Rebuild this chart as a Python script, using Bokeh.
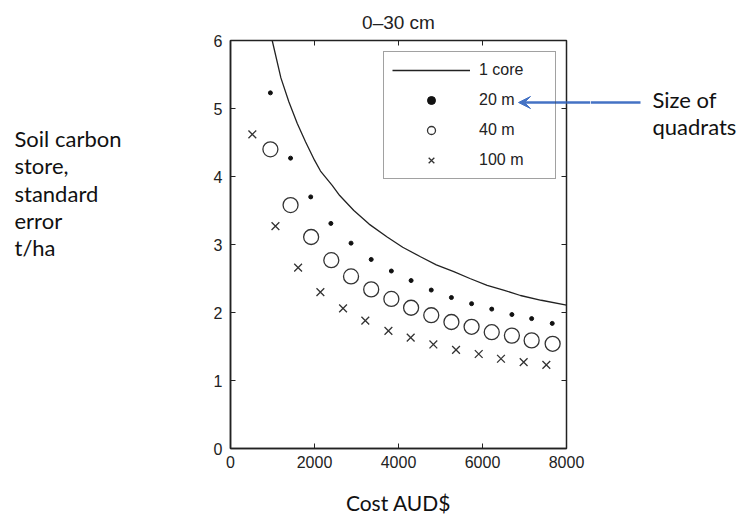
from bokeh.plotting import figure
from bokeh.layouts import row
from bokeh.models import (Range1d, Legend, LegendItem, Arrow, VeeHead, FixedTicker, LinearAxis)
from bokeh.core.properties import value
from bokeh.embed import file_html
from bokeh.resources import INLINE

# ---- data ----
cost_core = [993, 1200, 1389, 1590, 1786, 2000, 2143, 2421, 2600, 2937, 3300, 3730, 4100,
             4524, 4900, 5317, 5700, 6111, 6500, 6905, 7400, 8000]
se_core = [6.00, 5.45, 5.10, 4.78, 4.51, 4.24, 4.08, 3.87, 3.72, 3.50, 3.30, 3.11, 2.96,
           2.82, 2.70, 2.60, 2.50, 2.40, 2.33, 2.25, 2.18, 2.11]

cost_20m = [950, 1430, 1910, 2390, 2870, 3350, 3830, 4300, 4780, 5260, 5740, 6220, 6700, 7170, 7660]
se_20m = [5.23, 4.27, 3.70, 3.31, 3.02, 2.78, 2.61, 2.47, 2.33, 2.22, 2.13, 2.05, 1.97, 1.91, 1.84]

cost_40m = [950, 1430, 1920, 2400, 2870, 3350, 3830, 4300, 4780, 5260, 5740, 6220, 6700, 7170, 7670]
se_40m = [4.40, 3.58, 3.11, 2.77, 2.53, 2.34, 2.20, 2.07, 1.96, 1.86, 1.79, 1.71, 1.66, 1.59, 1.54]

cost_100m = [520, 1070, 1610, 2140, 2680, 3210, 3760, 4290, 4830, 5370, 5910, 6440, 6980, 7520]
se_100m = [4.62, 3.27, 2.66, 2.30, 2.06, 1.88, 1.73, 1.63, 1.53, 1.45, 1.39, 1.32, 1.27, 1.23]

x_ticks = [0, 2000, 4000, 6000, 8000]
y_ticks = [0, 1, 2, 3, 4, 5, 6]
legend_labels = ["1 core", "20 m", "40 m", "100 m"]
title_text = "0\u201330 cm"
ylab_lines = ["Soil carbon", "store,", "standard", "error", " t/ha"]
note_lines = ["Size of", "quadrats"]
xlab_text = "Cost AUD$"

# ---- layout constants (page pixels) ----
H = 520
TOTAL_W = 739
LEFT_W = 190                          # left annotation panel
FL, FT, FW, FH = 230, 40, 336, 408    # chart frame
FR = FL + FW                          # frame right edge
CHART_RB = 24                         # chart right border
RIGHT_START = FR + CHART_RB
RIGHT_W = TOTAL_W - RIGHT_START
XMAX, YMAX = 8000, 6
ARROW_Y, ARROW_X0, ARROW_X1 = 102, 640, 518

INK = "#222222"
FONT = "Liberation Sans"
NOTE_FONT = "Lato"
NOTE_SIZE = "22px"
NOTE_COLOR = "#111111"
ARROW_BLUE = "#4472C4"


def dx(px):
    return (px - FL) * XMAX / FW


def dy(py):
    return (FT + FH - py) * YMAX / FH


def blank_panel(width):
    # data units equal page pixels inside the (row-aligned) frame
    f = figure(width=width, height=H, output_backend="svg", toolbar_location=None,
               x_range=Range1d(0, width), y_range=Range1d(FT + FH, FT),
               x_axis_type=None, y_axis_type=None, min_border=0)
    f.grid.visible = False
    f.outline_line_color = None
    f.background_fill_color = "white"
    f.border_fill_color = "white"
    return f


# ---- left annotation panel ----
left = blank_panel(LEFT_W)
left.text(x=[14] * len(ylab_lines), y=[138 + 27.25 * i for i in range(len(ylab_lines))],
          text=ylab_lines, text_align="left", text_baseline="alphabetic",
          text_font=value(NOTE_FONT), text_font_size=NOTE_SIZE, text_color=NOTE_COLOR)

# ---- chart ----
p = figure(width=RIGHT_START - LEFT_W, height=H, output_backend="svg", toolbar_location=None,
           x_range=Range1d(0, XMAX), y_range=Range1d(0, YMAX),
           min_border_left=FL - LEFT_W, min_border_top=FT,
           min_border_right=CHART_RB, min_border_bottom=H - (FT + FH))
p.background_fill_color = "white"
p.border_fill_color = "white"
p.grid.visible = False
p.outline_line_color = INK
p.outline_line_width = 1.5

p.title.text = title_text
p.title.align = "center"
p.title.text_font = FONT
p.title.text_font_size = "19px"
p.title.text_font_style = "normal"
p.title.text_color = INK
p.title.standoff = 15

for ax in (p.xaxis[0], p.yaxis[0]):
    ax.major_tick_in = 5
    ax.major_tick_out = 0
    ax.minor_tick_line_color = None
    ax.axis_line_color = INK
    ax.axis_line_width = 1.5
    ax.major_tick_line_color = INK
    ax.major_label_text_font = FONT
    ax.major_label_text_font_size = "16px"
    ax.major_label_text_color = INK
p.xaxis[0].ticker = FixedTicker(ticks=x_ticks)
p.yaxis[0].ticker = FixedTicker(ticks=y_ticks)
p.xaxis[0].major_label_standoff = 7
p.yaxis[0].major_label_standoff = 8
p.xaxis[0].axis_label = xlab_text
p.xaxis[0].axis_label_text_font = NOTE_FONT
p.xaxis[0].axis_label_text_font_size = "21px"
p.xaxis[0].axis_label_text_font_style = "normal"
p.xaxis[0].axis_label_text_color = NOTE_COLOR
p.xaxis[0].axis_label_standoff = 19

# inward ticks on the top and right edges of the box
tick_dy = 5 * YMAX / FH
tick_dx = 5 * XMAX / FW
inner_x = x_ticks[1:-1]
inner_y = y_ticks[1:-1]
p.segment(x0=inner_x, y0=[YMAX] * len(inner_x), x1=inner_x, y1=[YMAX - tick_dy] * len(inner_x),
          line_color=INK, line_width=1)
p.segment(x0=[XMAX] * len(inner_y), y0=inner_y, x1=[XMAX - tick_dx] * len(inner_y), y1=inner_y,
          line_color=INK, line_width=1)

r_core = p.line(cost_core, se_core, line_color=INK, line_width=1.3)
r_20 = p.scatter(cost_20m, se_20m, marker="circle", size=4, fill_color="#111111",
                 line_color="#111111")
r_40 = p.scatter(cost_40m, se_40m, marker="circle", size=15, fill_color=None,
                 line_color="#333333", line_width=1.3)
r_100 = p.scatter(cost_100m, se_100m, marker="x", size=11, line_color="#333333",
                  line_width=1.3)

legend = Legend(items=[LegendItem(label=legend_labels[0], renderers=[r_core]),
                       LegendItem(label=legend_labels[1], renderers=[r_20]),
                       LegendItem(label=legend_labels[2], renderers=[r_40]),
                       LegendItem(label=legend_labels[3], renderers=[r_100])],
                location=(153, 269), margin=0, padding=8, spacing=10,
                glyph_width=78, glyph_height=20, label_height=20, label_width=68,
                label_standoff=9, label_text_font=FONT, label_text_font_size="16px",
                label_text_color=INK, border_line_color="#444444", border_line_width=1.2,
                background_fill_alpha=0)
p.add_layout(legend, "center")

# arrow: tip part inside the chart box
p.add_layout(Arrow(x_start=dx(FR), y_start=dy(ARROW_Y), x_end=dx(ARROW_X1), y_end=dy(ARROW_Y),
                   line_color=ARROW_BLUE, line_width=2.5, level="overlay",
                   end=VeeHead(size=12, fill_color=ARROW_BLUE, line_color=ARROW_BLUE,
                               line_width=1)))
# arrow: part crossing the chart's right border (drawn as one outward tick)
bridge = LinearAxis(ticker=FixedTicker(ticks=[dy(ARROW_Y)]))
bridge.axis_line_color = None
bridge.major_tick_in = 0
bridge.major_tick_out = CHART_RB
bridge.major_tick_line_color = ARROW_BLUE
bridge.major_tick_line_width = 2.5
bridge.minor_tick_line_color = None
bridge.major_label_text_color = None
bridge.major_label_text_font_size = "1px"
bridge.major_label_standoff = 0
p.add_layout(bridge, "right")

# ---- right annotation panel ----
right = blank_panel(RIGHT_W)
right.text(x=[652 - RIGHT_START] * len(note_lines), y=[99, 126],
           text=note_lines, text_align="left", text_baseline="alphabetic",
           text_font=value(NOTE_FONT), text_font_size=NOTE_SIZE, text_color=NOTE_COLOR)
right.segment(x0=[0], y0=[ARROW_Y], x1=[ARROW_X0 - RIGHT_START], y1=[ARROW_Y],
              line_color=ARROW_BLUE, line_width=2.5)

layout = row(left, p, right, spacing=0)
open("out.html", "w").write(file_html(layout, INLINE))
